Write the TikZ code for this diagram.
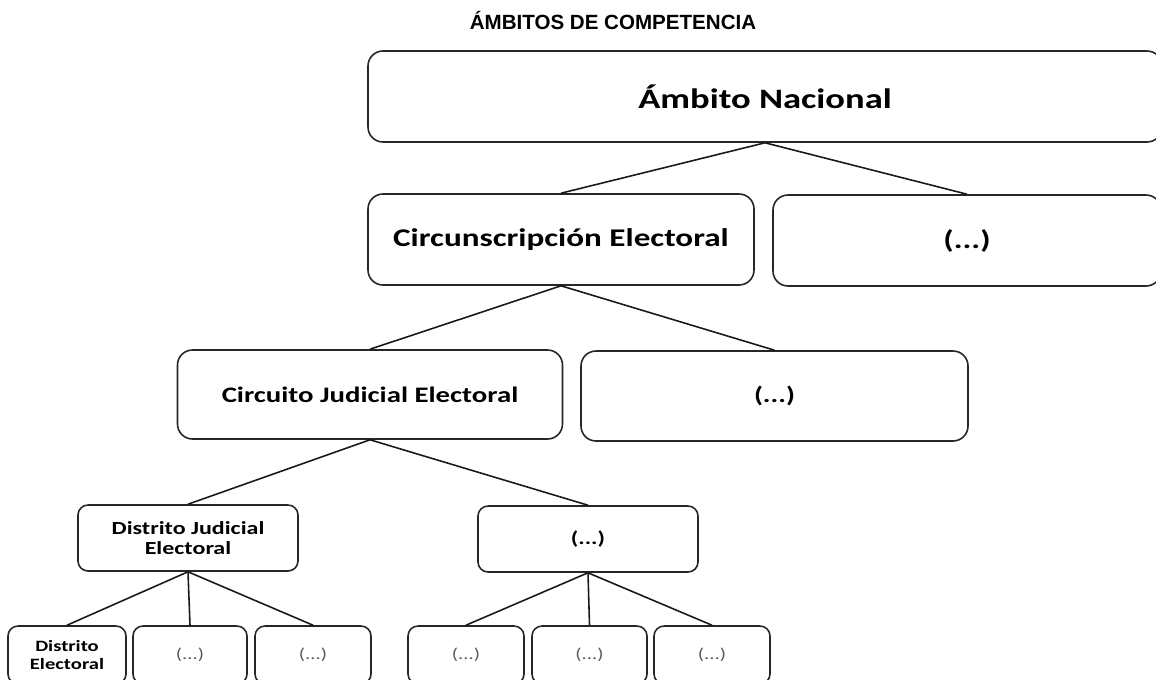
\documentclass[tikz,border=0pt]{standalone}
\usepackage{fontspec}
\setmainfont{Carlito}
\newfontfamily\titlefont{Liberation Sans}
\newfontfamily\boxfont[FakeStretch=1.3]{Carlito}

\begin{document}
\begin{tikzpicture}[
    x=0.2mm,y=-0.2mm,
    box/.style={draw=black!85,line width=0.9pt,rounded corners=3mm,
      align=center,inner sep=0pt,text=black},
    smallbox/.style={box,rounded corners=2mm},
    link/.style={draw=black!90,line width=0.9pt},
    big/.style={font=\boxfont\bfseries\fontsize{16}{19}\selectfont},
    wide/.style={font=\boxfont\bfseries\fontsize{14.5}{17}\selectfont},
    mid/.style={font=\boxfont\bfseries\fontsize{12.6}{15}\selectfont},
    low/.style={font=\boxfont\bfseries\fontsize{10.5}{11.5}\selectfont},
    tiny/.style={font=\boxfont\bfseries\fontsize{9}{10.5}\selectfont},
    dots/.style={font=\boxfont\fontsize{9}{11}\selectfont,text=black!65}
    ]
    \useasboundingbox (0,0) rectangle (1156,679);
    \node[font=\titlefont\bfseries\fontsize{11.7}{14}\selectfont] (title) at (613,20) {ÁMBITOS DE COMPETENCIA};
    % level 1
    \node[box,big,minimum width=158.8mm,minimum height=18.2mm] (nac) at (765,96.5) {Ámbito Nacional};
    % level 2
    \node[box,wide,minimum width=77.2mm,minimum height=18.2mm] (circ) at (561,239.5) {Circunscripción Electoral};
    \node[box,wide,minimum width=77.6mm,minimum height=18.2mm] (circx) at (967,240.5) {(...)};
    % level 3
    \node[box,mid,minimum width=77mm,minimum height=17.8mm] (cje) at (370,394.5) {Circuito Judicial Electoral};
    \node[box,mid,minimum width=77.4mm,minimum height=18mm] (cjex) at (774.5,396) {(...)};
    % level 4
    \node[smallbox,low,minimum width=44mm,minimum height=13.2mm] (dje) at (188,538) {Distrito Judicial\\Electoral};
    \node[smallbox,low,minimum width=44mm,minimum height=13.2mm] (djex) at (588,539) {(...)};
    % level 5
    \node[smallbox,tiny,minimum width=23.6mm,minimum height=11.6mm] (de) at (67,655) {Distrito\\Electoral};
    \node[smallbox,dots,minimum width=22.8mm,minimum height=11.6mm] (dea) at (190,655) {(...)};
    \node[smallbox,dots,minimum width=23.2mm,minimum height=11.6mm] (deb) at (313,655) {(...)};
    \node[smallbox,dots,minimum width=23.2mm,minimum height=11.6mm] (dec) at (466,655) {(...)};
    \node[smallbox,dots,minimum width=23mm,minimum height=11.6mm] (ded) at (589.5,655) {(...)};
    \node[smallbox,dots,minimum width=23.2mm,minimum height=11.6mm] (dee) at (712,655) {(...)};
    % connectors
    \draw[link] (nac.south) -- (circ.north);
    \draw[link] (nac.south) -- (circx.north);
    \draw[link] (circ.south) -- (cje.north);
    \draw[link] (circ.south) -- (cjex.north);
    \draw[link] (cje.south) -- (dje.north);
    \draw[link] (cje.south) -- (djex.north);
    \foreach \n in {de,dea,deb} {\draw[link] (dje.south) -- (\n.north);}
    \foreach \n in {dec,ded,dee} {\draw[link] (djex.south) -- (\n.north);}
\end{tikzpicture}
\end{document}
